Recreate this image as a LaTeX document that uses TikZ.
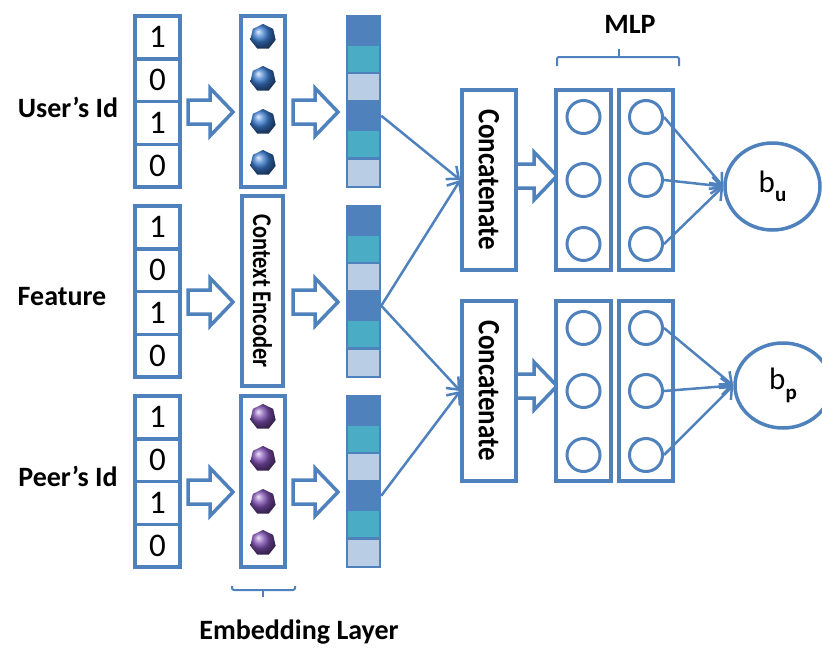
\documentclass[tikz,border=0pt]{standalone}
\usepackage{fontspec}
\setmainfont{Carlito}
\usetikzlibrary{shapes.geometric,arrows.meta}
\definecolor{pb}{HTML}{4F81BD}
\definecolor{tl}{HTML}{4BACC6}
\definecolor{lb}{HTML}{B9CDE5}
\definecolor{dotblue}{HTML}{3A7BD0}
\definecolor{dotpurple}{HTML}{8050B4}
\newcommand\blkarrow[3]{%
  \draw[blk] (#1,{#3-12}) -- ({#2-23},{#3-12}) -- ({#2-23},{#3-24}) -- (#2,#3) -- ({#2-23},{#3+24}) -- ({#2-23},{#3+12}) -- (#1,{#3+12}) -- cycle;}
\tikzset{
  box/.style={draw=pb, line width=3.5pt, fill=white, inner sep=0pt},
  cell/.style={draw=pb, line width=3.5pt, fill=white, minimum width=45pt, minimum height=42.75pt, inner sep=0pt, font=\fontsize{33}{33}\selectfont},
  vcell/.style={draw=pb, line width=2.5pt, minimum width=33pt, minimum height=28.5pt, inner sep=0pt},
  lbl/.style={font=\bfseries\fontsize{28}{30}\selectfont},
  neuron/.style={circle, draw=pb, line width=3pt, minimum size=33pt, inner sep=0pt},
  conn/.style={draw=pb, line width=2.5pt, -{Straight Barb[length=10pt,width=17pt,line width=2.5pt]}},
  dotnode/.style={regular polygon, regular polygon sides=7, minimum size=26pt, inner sep=0pt},
  blk/.style={draw=pb, line width=3.5pt, fill=white, line join=miter},
  outnode/.style={ellipse, draw=pb, line width=3.5pt, fill=white, inner sep=0pt, font=\fontsize{31}{31}\selectfont},
  brace/.style={draw=pb, line width=2pt},
}
\begin{document}
\begin{tikzpicture}[x=1pt,y=-1pt]
\clip (0,0) rectangle (822,648);
% labels
\node[lbl] (lab1) at (68,107) {User’s Id};
\node[lbl] (lab2) at (62,297) {Feature};
\node[lbl] (lab3) at (68,476) {Peer’s Id};
% rows
\foreach \r/\T in {1/16,2/206,3/396}{
  \foreach \i/\d in {1/1,2/0,3/1,4/0}{
    \node[cell] (in\r-\i) at (157.5,{\T+21.375+42.75*(\i-1)}) {\d};
  }
  \blkarrow{188}{233}{\T+96}
  \blkarrow{293}{338}{\T+96}
  \foreach \i/\c in {1/pb,2/tl,3/lb,4/pb,5/tl,6/lb}{
    \node[vcell, fill=\c] (v\r-\i) at (363.5,{\T+14.25+28.5*(\i-1)}) {};
  }
}
% embedding columns
\node[box, minimum width=44pt, minimum height=171pt] (emb1) at (263,101.5) {};
\node[box, minimum width=41pt, minimum height=190pt] (enc) at (262.5,291) {};
\node[rotate=-90, font=\bfseries\fontsize{27}{27}\selectfont] (enctext) at (enc) {\scalebox{0.83}[1]{Context Encoder}};
\node[box, minimum width=44pt, minimum height=171pt] (emb3) at (263,481.5) {};
\foreach \k/\dy in {1/21,2/63,3/106,4/147}{
  \node[dotnode, ball color=dotblue] (du\k) at (263,{16+\dy}) {};
  \node[dotnode, ball color=dotpurple] (dp\k) at (263,{396+\dy}) {};
}
% concat -> MLP arrows
\blkarrow{516}{557}{176}
\blkarrow{516}{557}{386}
% concatenate boxes
\node[box, minimum width=54pt, minimum height=180pt] (c1) at (489,180) {};
\node[rotate=-90, font=\bfseries\fontsize{31}{31}\selectfont] (c1t) at (c1) {\scalebox{0.87}[1]{Concatenate}};
\node[box, minimum width=54pt, minimum height=180pt] (c2) at (489,391) {};
\node[rotate=-90, font=\bfseries\fontsize{31}{31}\selectfont] (c2t) at (c2) {\scalebox{0.87}[1]{Concatenate}};
% connectors to concat
\draw[conn] (v1-4.east) -- (c1.west);
\draw[conn] (v2-4.east) -- (c1.west);
\draw[conn] (v2-4.east) -- (c2.west);
\draw[conn] (v3-4.east) -- (c2.west);
% MLP
\foreach \r/\Y in {1/180,2/391}{
  \node[box, minimum width=55pt, minimum height=180pt] (m\r a) at (583.5,\Y) {};
  \node[box, minimum width=54pt, minimum height=180pt] (m\r b) at (646,\Y) {};
  \foreach \k/\dy in {1/-63,2/0,3/64}{
    \node[neuron] (n\r-1-\k) at (583.5,{\Y+\dy}) {};
    \node[neuron] (n\r-2-\k) at (646,{\Y+\dy}) {};
  }
}
% outputs
\node[outnode, minimum width=95pt, minimum height=87pt] (bu) at (772.5,186.5) {b\raisebox{-0.3em}{\fontsize{21}{21}\selectfont\bfseries u}};
\node[outnode, minimum width=96pt, minimum height=85pt] (bp) at (783,385.5) {b\raisebox{-0.3em}{\fontsize{21}{21}\selectfont\bfseries p}};
\foreach \k in {1,2,3}{
  \draw[conn] (n1-2-\k.east) -- (bu.west);
  \draw[conn] (n2-2-\k.east) -- (bp.west);
}
% braces
\draw[brace, rounded corners=2pt] (557,66) -- (557,57) -- (679,57) -- (679,66);
\draw[brace] (619,57) -- (619,49);
\node[lbl] (mlp) at (630,24) {MLP};
\draw[brace, rounded corners=2pt] (232,586) -- (232,590) -- (295,590) -- (295,586);
\draw[brace] (263,590) -- (263,597);
\node[lbl] (embl) at (299,632) {Embedding Layer};
\end{tikzpicture}
\end{document}
